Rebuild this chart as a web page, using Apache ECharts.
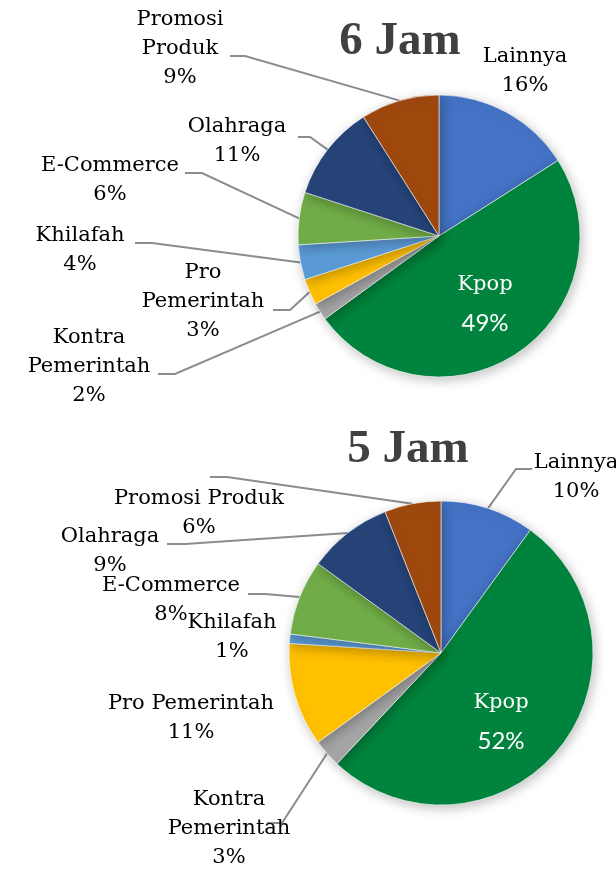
<!DOCTYPE html>
<html>
<head>
<meta charset="utf-8">
<script src="https://cdn.jsdelivr.net/npm/echarts@6/dist/echarts.min.js"></script>
<style>
  html, body { margin: 0; padding: 0; background: #fff; }
  #chart { width: 616px; height: 881px; }
</style>
</head>
<body>
<div id="chart"></div>
<script>
// urutan searah jarum jam mulai dari atas
const categories = ['Lainnya', 'Kpop', 'Kontra Pemerintah', 'Pro Pemerintah', 'Khilafah', 'E-Commerce', 'Olahraga', 'Promosi Produk']
const jam6 = [16, 49, 2, 3, 4, 6, 11, 9]
const jam5 = [10, 52, 3, 11, 1, 8, 9, 6]
const titles = ['6 Jam', '5 Jam']

// teks label (pemenggalan baris beda di tiap grafik)
const labelText6 = ['Lainnya', 'Kpop', 'Kontra\nPemerintah', 'Pro\nPemerintah', 'Khilafah', 'E-Commerce', 'Olahraga', 'Promosi\nProduk']
const labelText5 = ['Lainnya', 'Kpop', 'Kontra\nPemerintah', 'Pro Pemerintah', 'Khilafah', 'E-Commerce', 'Olahraga', 'Promosi Produk']

const colors = ['#4472c4', '#00843d', '#a5a5a5', '#ffc000', '#5b9bd5', '#70ad47', '#264478', '#9e480e']

// posisi label: [x, y, [ujung garis x, siku x, garis y]] , null = tanpa garis
const pos6 = [
  [525, 71, null],
  [485, 304, null],
  [89, 367, [158, 175, 374]],
  [203, 302, [273, 290, 310]],
  [80, 250, [135, 152, 243]],
  [110, 180, [185, 202, 173]],
  [237, 141, [298, 310, 137]],
  [180, 49, [230, 245, 56]],
]
const pos5 = [
  [576, 477, [532, 516, 469]],
  [501, 722, null],
  [229, 829, [267, 282, 823]],
  [191, 718, null],
  [232, 637, null],
  [171, 600, [248, 265, 594]],
  [110, 551, [167, 185, 544]],
  [199, 513, [210, 227, 477]],
]

function makeLayout(pos) {
  return function (params) {
    const p = pos[params.dataIndex]
    const out = { x: p[0], y: p[1], align: 'center', verticalAlign: 'middle' }
    if (p[2] && params.labelLinePoints) {
      const start = params.labelLinePoints[0]
      out.labelLinePoints = [start, [p[2][1], p[2][2]], [p[2][0], p[2][2]]]
    }
    return out
  }
}

function makeSeries(values, texts, pos, center, radius) {
  return {
    type: 'pie',
    center: center,
    radius: radius,
    startAngle: 90,
    avoidLabelOverlap: false,
    silent: true,
    itemStyle: {
      borderColor: '#ffffff',
      borderWidth: 0.6,
      shadowBlur: 12,
      shadowColor: 'rgba(0,0,0,0.25)',
      shadowOffsetX: 2,
      shadowOffsetY: 3,
    },
    label: {
      show: true,
      fontFamily: 'DejaVu Serif',
      fontSize: 21,
      lineHeight: 29,
      color: '#000',
      formatter: (p) => {
        if (p.dataIndex === 1) return `{k|${texts[1]}}\n{kp|${p.value}%}`
        return `${texts[p.dataIndex]}\n${p.value}%`
      },
      rich: {
        k: { fontFamily: 'DejaVu Serif', fontSize: 21, color: '#fff', lineHeight: 38 },
        kp: { fontFamily: 'Lato', fontSize: 24, color: '#fff', lineHeight: 38 },
      },
    },
    labelLine: {
      show: true,
      lineStyle: { color: '#8c8c8c', width: 2 },
    },
    labelLayout: makeLayout(pos),
    data: categories.map((name, i) => ({
      name: name,
      value: values[i],
      itemStyle: { color: colors[i] },
      labelLine: { show: !!pos[i][2] },
    })),
  }
}

const chart = echarts.init(document.getElementById('chart'))
chart.setOption({
  animation: false,
  backgroundColor: '#ffffff',
  title: [
    {
      text: titles[0], left: 395, top: 13, textAlign: 'center',
      textStyle: { fontFamily: 'Liberation Serif', fontWeight: 'bold', fontSize: 47, color: '#404040' },
    },
    {
      text: titles[1], left: 403, top: 421, textAlign: 'center',
      textStyle: { fontFamily: 'Liberation Serif', fontWeight: 'bold', fontSize: 47, color: '#404040' },
    },
  ],
  series: [
    makeSeries(jam6, labelText6, pos6, [439, 236], 141),
    makeSeries(jam5, labelText5, pos5, [441, 653], 152),
  ],
})
</script>
</body>
</html>
